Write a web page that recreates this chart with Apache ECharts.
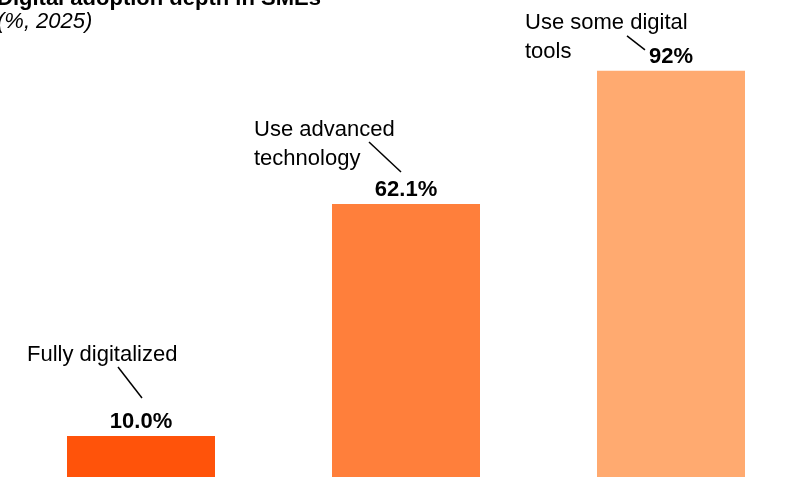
<!DOCTYPE html>
<html>
<head>
<meta charset="utf-8">
<script src="https://cdn.jsdelivr.net/npm/echarts@6/dist/echarts.min.js"></script>
<style>
  html, body { margin: 0; padding: 0; background: #ffffff; }
  #chart { width: 791px; height: 477px; }
</style>
</head>
<body>
<div id="chart"></div>
<script>
// Share of SMEs by depth of digital adoption (%, 2025)
const categories = ['Fully digitalized', 'Use advanced\ntechnology', 'Use some digital\ntools'];
const values = [10.0, 62.1, 92];
const valueLabels = ['10.0%', '62.1%', '92%'];
const barColors = ['#FF530A', '#FF7F3B', '#FFAA70'];

// Callout placement relative to the top centre of each bar (pixels)
const callouts = [
  { textX: -114, textY: -96, line: [-23, -69, 1, -38] },
  { textX: -152, textY: -89, line: [-37, -62, -5, -32] },
  { textX: -146, textY: -62, line: [-44, -35, -26, -21] }
];

const FONT = 'Arial, "Liberation Sans", sans-serif';

const chart = echarts.init(document.getElementById('chart'), null, { renderer: 'canvas' });

chart.setOption({
  animation: false,
  backgroundColor: '#ffffff',
  title: [
    {
      text: 'Digital adoption depth in SMEs',
      left: -3,
      top: -12,
      padding: 0,
      textStyle: { fontFamily: FONT, fontSize: 22, fontWeight: 'bold', color: '#000000' }
    },
    {
      text: '(%, 2025)',
      left: -3,
      top: 11,
      padding: 0,
      textStyle: { fontFamily: FONT, fontSize: 22, fontStyle: 'italic', fontWeight: 'normal', color: '#000000' }
    }
  ],
  grid: {
    left: 8.5, top: 35.2, width: 795, height: 445.3,
    containLabel: false,
    outerBoundsMode: 'none'
  },
  xAxis: {
    type: 'category',
    data: categories,
    show: false
  },
  yAxis: {
    type: 'value',
    min: 0,
    max: 100,
    show: false
  },
  series: [
    {
      type: 'bar',
      barWidth: 148,
      data: values.map((v, i) => ({ value: v, itemStyle: { color: barColors[i] } })),
      label: {
        show: true,
        position: 'top',
        distance: 3,
        formatter: (p) => valueLabels[p.dataIndex],
        fontFamily: FONT,
        fontSize: 22,
        fontWeight: 'bold',
        color: '#000000'
      },
      z: 2
    },
    {
      type: 'custom',
      data: values.map((v, i) => [i, v]),
      z: 3,
      silent: true,
      renderItem: function (params, api) {
        const i = params.dataIndex;
        const top = api.coord([api.value(0), api.value(1)]);
        const c = callouts[i];
        return {
          type: 'group',
          children: [
            {
              type: 'text',
              style: {
                text: categories[i],
                x: top[0] + c.textX,
                y: top[1] + c.textY,
                align: 'left',
                verticalAlign: 'top',
                fontFamily: FONT,
                fontSize: 22,
                lineHeight: 29,
                fill: '#000000'
              }
            },
            {
              type: 'line',
              shape: {
                x1: top[0] + c.line[0], y1: top[1] + c.line[1],
                x2: top[0] + c.line[2], y2: top[1] + c.line[3]
              },
              style: { stroke: '#000000', lineWidth: 1.5 }
            }
          ]
        };
      }
    }
  ]
});
</script>
</body>
</html>
